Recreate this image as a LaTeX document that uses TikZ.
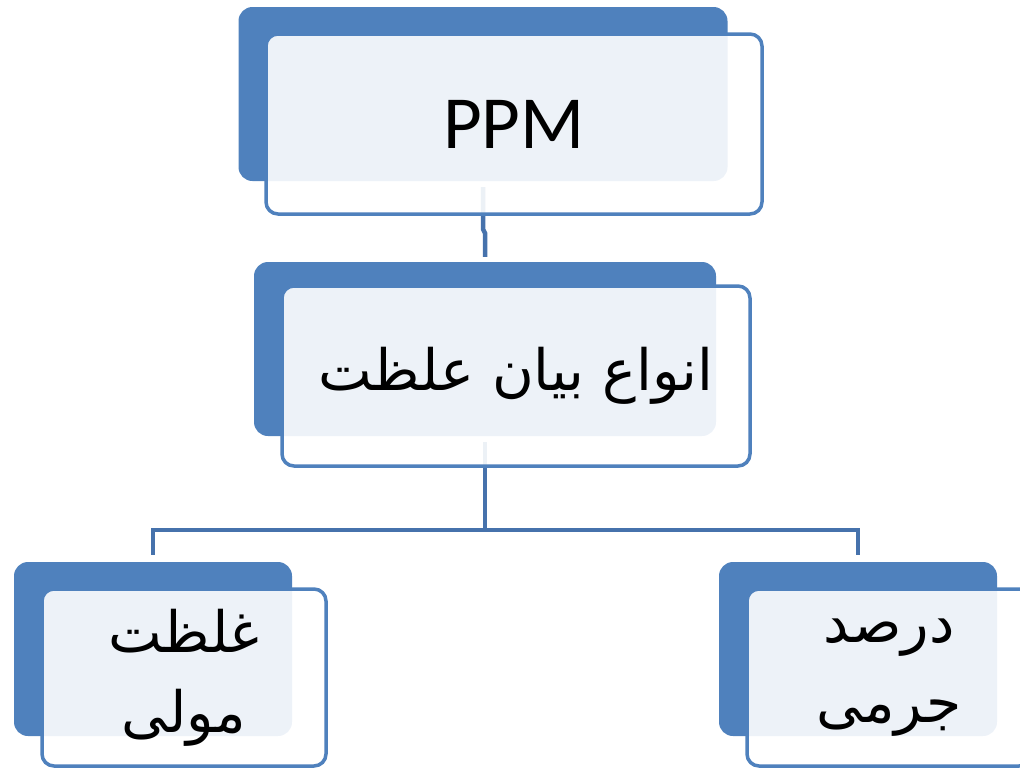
\documentclass[tikz,border=0pt]{standalone}
\usepackage{fontspec}
\TeXXeTstate=1
\newfontfamily\arabicfont[Script=Arabic]{DejaVu Sans}
\newfontfamily\calibrifont{Carlito}
\definecolor{accent}{RGB}{79,129,189}
\definecolor{linkc}{RGB}{70,114,172}
\tikzset{
  backbox/.style={rectangle, rounded corners=14pt, fill=accent, draw=none, inner sep=0pt},
  frontbox/.style={rectangle, rounded corners=12pt, fill=white, fill opacity=0.9, text opacity=1, draw=accent, line width=3.5pt, inner sep=0pt, align=center},
  link/.style={draw=linkc, line width=4.5pt},
  artext/.style={font=\arabicfont\fontsize{57}{80}\selectfont},
}
\begin{document}
\begin{tikzpicture}[x=1pt,y=-1pt]
\clip (0,0) rectangle (1020,769);
% back boxes
\node[backbox, minimum width=489pt, minimum height=174pt] (b0) at (483,94) {};
\node[backbox, minimum width=462pt, minimum height=174pt] (b1) at (485,349) {};
\node[backbox, minimum width=278pt, minimum height=174pt] (b2) at (153,649) {};
\node[backbox, minimum width=278pt, minimum height=174pt] (b3) at (858,649) {};
% connectors
\coordinate (j) at (485,530);
\draw[link] ([yshift=-6pt]b0.south) -- ++(0,42) -- ++(2,4) -- ([yshift=5pt,xshift=0pt]b1.north);
\draw[link] ([yshift=-6pt]b1.south) -- (j);
\draw[link] ([yshift=7pt]b2.north) |- (j) -| ([yshift=7pt]b3.north);
% front boxes
\node[frontbox, minimum width=496pt, minimum height=180pt, font=\calibrifont\fontsize{75}{80}\selectfont] (f0) at (514,124) {PPM};
\node[frontbox, minimum width=468pt, minimum height=180pt, artext] (f1) at (516,376) {\beginR انواع بیان علظت\endR};
\node[frontbox, minimum width=284pt, minimum height=177pt, artext] (f2) at (184,677.5) {\beginR غلظت\endR\\\beginR مولی\endR};
\node[frontbox, minimum width=284pt, minimum height=177pt, artext] (f3) at (889,677.5) {\beginR درصد\endR\\\beginR جرمی\endR};
\end{tikzpicture}
\end{document}
